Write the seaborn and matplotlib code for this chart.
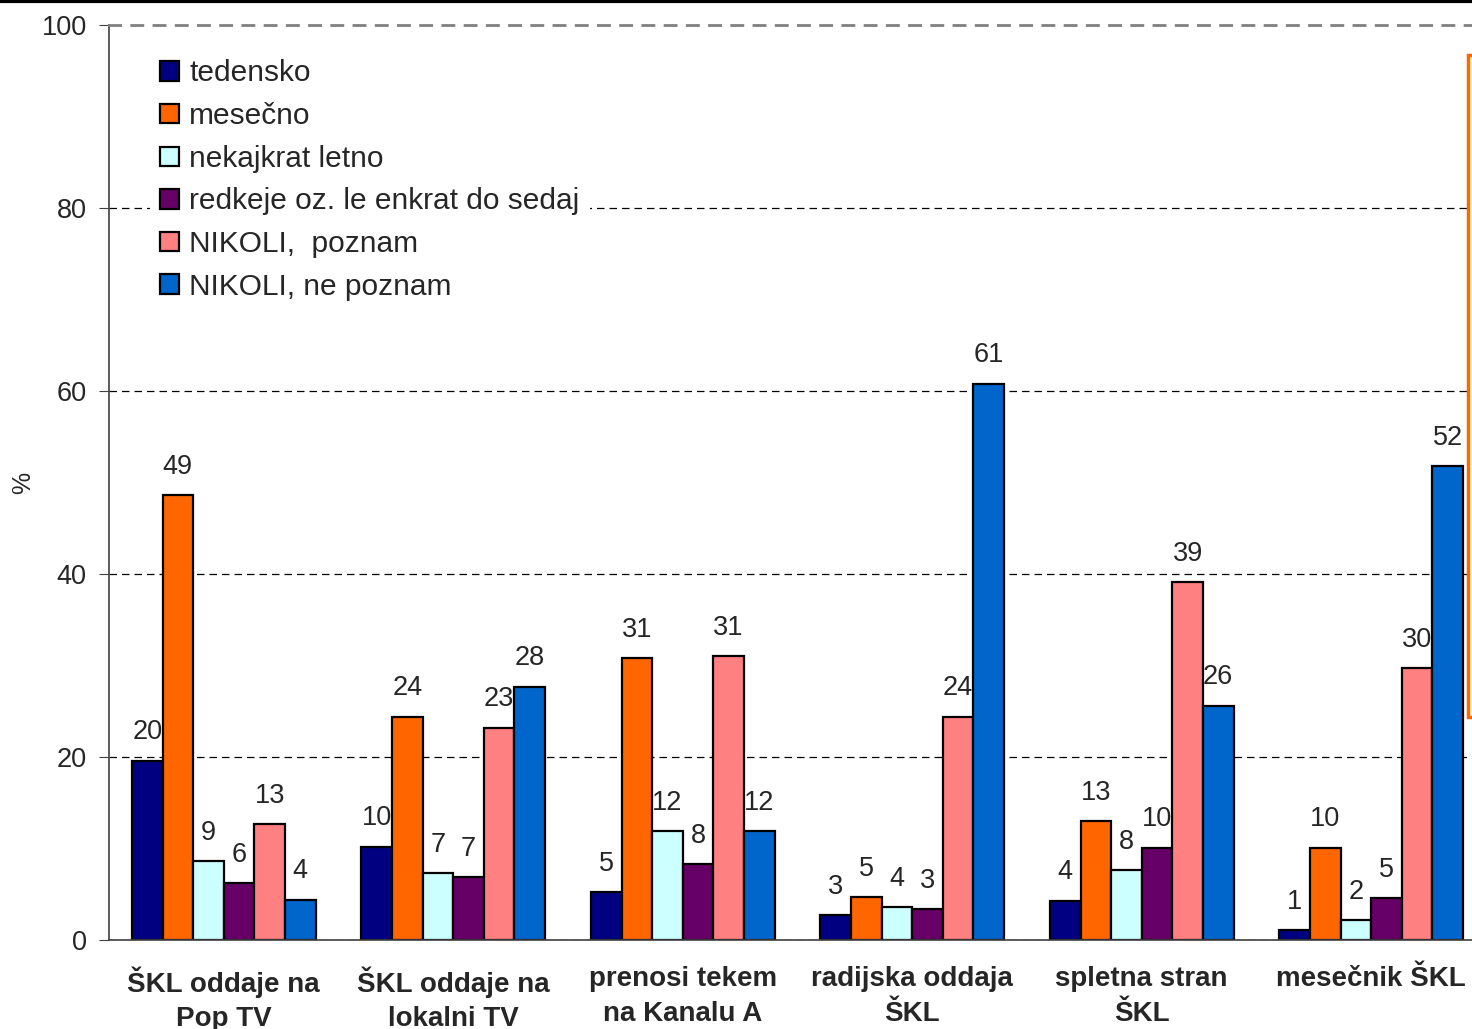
import pandas as pd
import matplotlib.pyplot as plt
import seaborn as sns
from matplotlib.lines import Line2D
from matplotlib.patches import Rectangle

# categories on the x axis
categories = ['ŠKL oddaje na\nPop TV', 'ŠKL oddaje na\nlokalni TV', 'prenosi tekem\nna Kanalu A',
              'radijska oddaja\nŠKL', 'spletna stran\nŠKL', 'mesečnik ŠKL']
series = ['tedensko', 'mesečno', 'nekajkrat letno', 'redkeje oz. le enkrat do sedaj',
          'NIKOLI,  poznam', 'NIKOLI, ne poznam']

# percentages per series (one value per category)
tedensko = [19.6, 10.2, 5.2, 2.7, 4.3, 1.1]
mesecno = [48.6, 24.4, 30.8, 4.7, 13.0, 10.1]
nekajkrat = [8.6, 7.3, 11.9, 3.6, 7.6, 2.2]
redkeje = [6.2, 6.9, 8.3, 3.4, 10.1, 4.6]
nikoli_poznam = [12.7, 23.2, 31.0, 24.4, 39.1, 29.7]
nikoli_ne_poznam = [4.4, 27.7, 11.9, 60.8, 25.6, 51.8]

colors = ['#000080', '#FF6600', '#CCFFFF', '#660066', '#FF8080', '#0066CC']

rows = []
for s, vals in zip(series, [tedensko, mesecno, nekajkrat, redkeje, nikoli_poznam, nikoli_ne_poznam]):
    for c, v in zip(categories, vals):
        rows.append({'kategorija': c, 'pogostost': s, 'odstotek': v})
df = pd.DataFrame(rows)

sns.set_style('white')
plt.rcParams['font.family'] = ['Liberation Sans', 'DejaVu Sans']

fig = plt.figure(figsize=(14.72, 10.29), dpi=100)
ax = fig.add_axes([109 / 1472, 89 / 1029, 1377 / 1472, 915 / 1029])

sns.barplot(data=df, x='kategorija', y='odstotek', hue='pogostost', palette=colors,
            saturation=1, width=0.8, edgecolor='black', linewidth=1.6, ax=ax)

# value labels above bars
for cont in ax.containers:
    ax.bar_label(cont, labels=[f'{b.get_height():.0f}' for b in cont], padding=11, fontsize=19.5)

ax.set_ylim(0, 100)
ax.set_xlim(-0.5, 5.5)
ax.set_yticks(range(0, 101, 20))
ax.set_xticks(range(6))
ax.set_xticks([i + 0.5 for i in range(-1, 6)], minor=True)
ax.tick_params(axis='x', which='major', length=0, pad=19)
ax.tick_params(axis='x', which='minor', length=7, direction='out', color='#404040')
ax.tick_params(axis='y', length=7, direction='out', color='#404040', labelsize=19.5, left=True, pad=9)
for lbl in ax.get_xticklabels():
    lbl.set_fontsize(20)
    lbl.set_fontweight('bold')
    lbl.set_linespacing(1.42)
    lbl.set_verticalalignment('top')

ax.yaxis.grid(True, linestyle=(0, (6, 4)), color='black', linewidth=0.9)
ax.yaxis.get_gridlines()[-1].set_visible(False)
ax.set_axisbelow(True)
ax.set_xlabel('')
ax.set_ylabel('%', fontsize=18)
ax.yaxis.set_label_coords(-0.054, 0.5)

for side in ['left', 'bottom']:
    ax.spines[side].set_color('#404040')
    ax.spines[side].set_linewidth(1.2)
ax.spines['right'].set_visible(False)
ax.spines['top'].set_linestyle((0, (4, 4)))
ax.spines['top'].set_color('#808080')
ax.spines['top'].set_linewidth(2)

leg = ax.legend(loc='upper left', bbox_to_anchor=(150 / 1472, 1 - 49 / 1029),
                bbox_transform=fig.transFigure, borderaxespad=0, fontsize=21.5,
                frameon=True, facecolor='white', edgecolor='none', framealpha=1,
                handlelength=0.62, handleheight=0.62, handletextpad=0.35,
                labelspacing=0.49, borderpad=0.35, fancybox=False)

# frame pieces around the plot
fig.add_artist(Line2D([0, 1], [0.999, 0.999], transform=fig.transFigure, color='black', lw=3))
fig.add_artist(Rectangle((1468 / 1472, 1 - 717 / 1029), 0.05, (717 - 55) / 1029,
                         transform=fig.transFigure, facecolor='#FFFFCC',
                         edgecolor='#FF6600', linewidth=2.5))

fig.savefig('out.png', dpi=100)
